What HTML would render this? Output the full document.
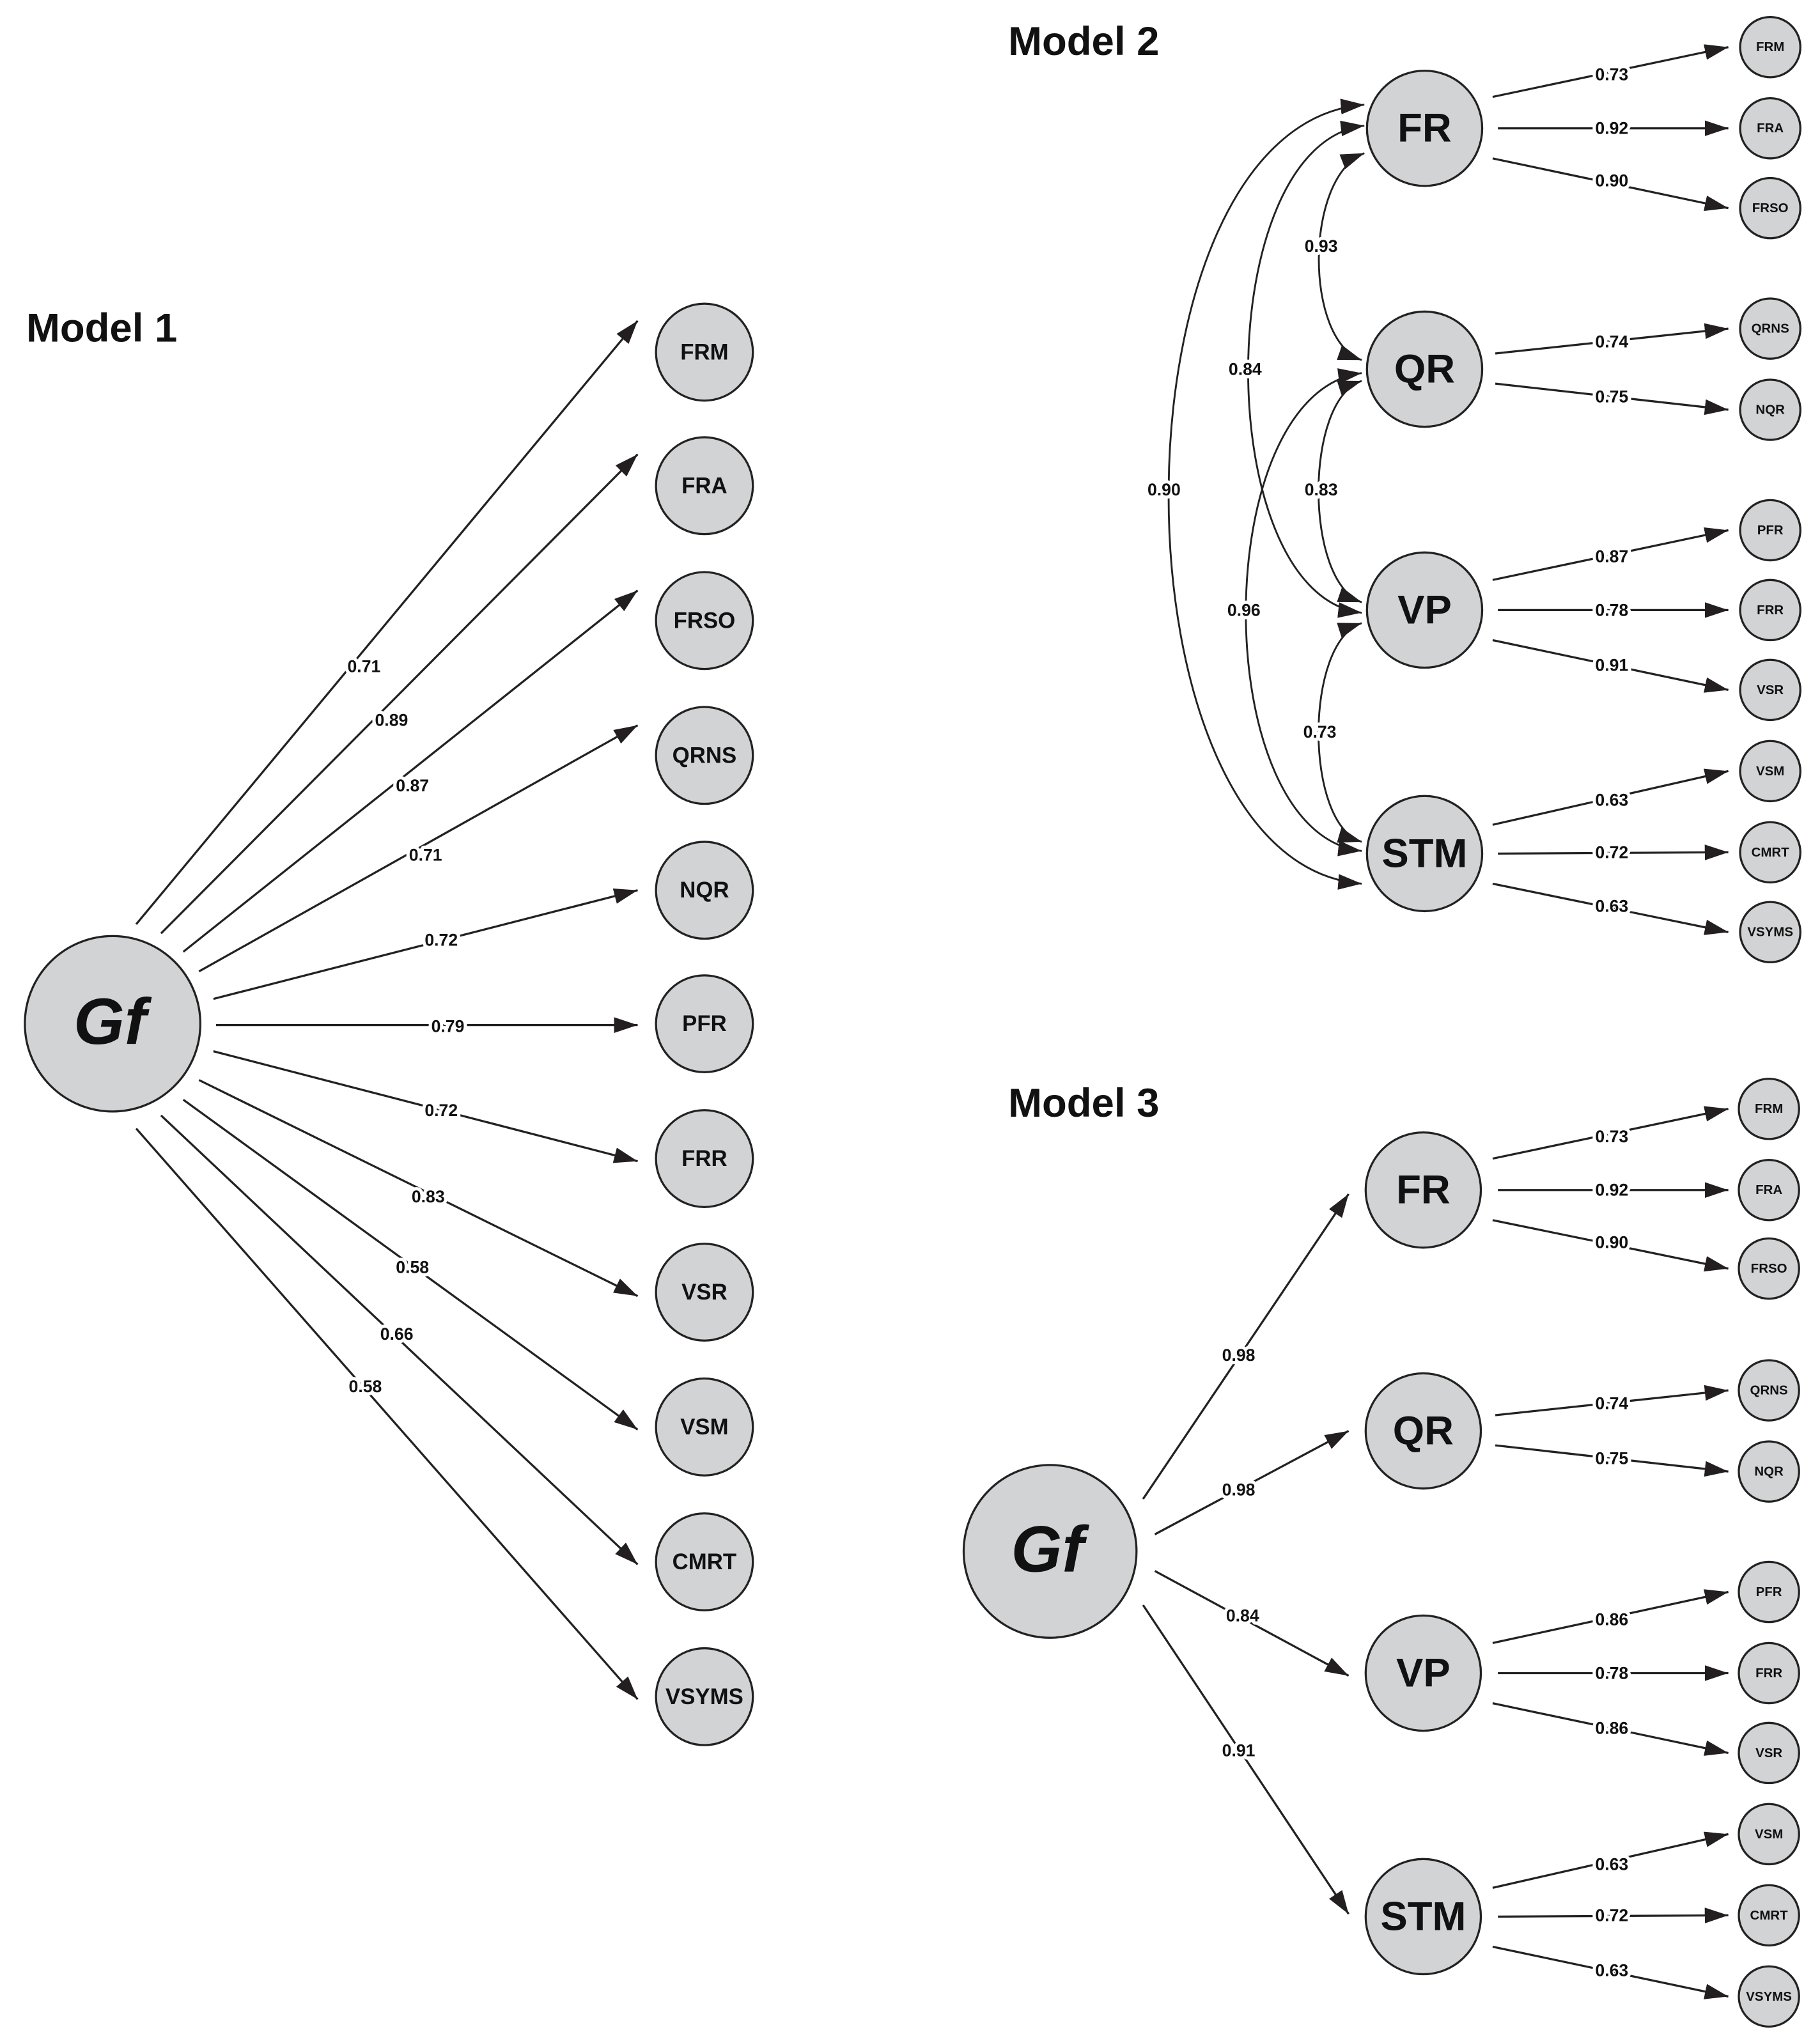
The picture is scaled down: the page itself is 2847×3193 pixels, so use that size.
<!DOCTYPE html>
<html><head><meta charset="utf-8"><style>
html,body{margin:0;padding:0;background:#fff}
svg{display:block}
text{font-family:"Liberation Sans",Arial,sans-serif;font-weight:bold;fill:#111}
.l{font-size:13px;text-anchor:middle;dominant-baseline:central;stroke:#fff;stroke-width:5px;paint-order:stroke;stroke-linejoin:round}
.n1{font-size:17px;text-anchor:middle;dominant-baseline:central}
.n2{font-size:10px;text-anchor:middle;dominant-baseline:central}
.lat{font-size:31px;text-anchor:middle;dominant-baseline:central}
.gf{font-size:50px;font-style:italic;text-anchor:middle;dominant-baseline:central}
.t{font-size:31px}
circle{fill:#d1d3d4;stroke:#222;stroke-width:1.6}
.a{stroke:#222;stroke-width:1.6;fill:none;marker-end:url(#ah)}
.c{stroke:#222;stroke-width:1.4;fill:none;marker-end:url(#ah);marker-start:url(#as)}
</style></head><body>
<svg width="2847" height="3193" viewBox="0 0 1390 1559" preserveAspectRatio="none" xmlns="http://www.w3.org/2000/svg">
<defs>
<marker id="ah" markerUnits="userSpaceOnUse" markerWidth="18" markerHeight="12" viewBox="0 0 18 12" refX="18" refY="6" orient="auto"><path d="M0,0 L18,6 L0,12 z" fill="#231f20"/></marker>
<marker id="as" markerUnits="userSpaceOnUse" markerWidth="18" markerHeight="12" viewBox="0 0 18 12" refX="0" refY="6" orient="auto"><path d="M18,0 L0,6 L18,12 z" fill="#231f20"/></marker>
</defs>

<!-- Titles -->
<text class="t" x="20" y="261">Model 1</text>
<text class="t" x="770" y="42">Model 2</text>
<text class="t" x="770" y="853">Model 3</text>

<!-- Model 1 -->
<line class="a" x1="104" y1="706" x2="487" y2="245"/>
<line class="a" x1="123" y1="713" x2="487" y2="347"/>
<line class="a" x1="140" y1="727" x2="487" y2="451"/>
<line class="a" x1="152" y1="742" x2="487" y2="554"/>
<line class="a" x1="163" y1="763" x2="487" y2="680"/>
<line class="a" x1="165" y1="783" x2="487" y2="783"/>
<line class="a" x1="163" y1="803" x2="487" y2="887"/>
<line class="a" x1="152" y1="825" x2="487" y2="990"/>
<line class="a" x1="140" y1="840" x2="487" y2="1092"/>
<line class="a" x1="123" y1="852" x2="487" y2="1195"/>
<line class="a" x1="104" y1="862" x2="487" y2="1298"/>
<text class="l" x="278" y="509">0.71</text>
<text class="l" x="299" y="550">0.89</text>
<text class="l" x="315" y="600">0.87</text>
<text class="l" x="325" y="653">0.71</text>
<text class="l" x="337" y="718">0.72</text>
<text class="l" x="342" y="784">0.79</text>
<text class="l" x="337" y="848">0.72</text>
<text class="l" x="327" y="914">0.83</text>
<text class="l" x="315" y="968">0.58</text>
<text class="l" x="303" y="1019">0.66</text>
<text class="l" x="279" y="1059">0.58</text>
<circle cx="86" cy="782" r="67"/><text class="gf" x="84" y="780">Gf</text>
<circle cx="538" cy="269" r="37"/><text class="n1" x="538" y="269">FRM</text>
<circle cx="538" cy="371" r="37"/><text class="n1" x="538" y="371">FRA</text>
<circle cx="538" cy="474" r="37"/><text class="n1" x="538" y="474">FRSO</text>
<circle cx="538" cy="577" r="37"/><text class="n1" x="538" y="577">QRNS</text>
<circle cx="538" cy="680" r="37"/><text class="n1" x="538" y="680">NQR</text>
<circle cx="538" cy="782" r="37"/><text class="n1" x="538" y="782">PFR</text>
<circle cx="538" cy="885" r="37"/><text class="n1" x="538" y="885">FRR</text>
<circle cx="538" cy="987" r="37"/><text class="n1" x="538" y="987">VSR</text>
<circle cx="538" cy="1090" r="37"/><text class="n1" x="538" y="1090">VSM</text>
<circle cx="538" cy="1193" r="37"/><text class="n1" x="538" y="1193">CMRT</text>
<circle cx="538" cy="1296" r="37"/><text class="n1" x="538" y="1296">VSYMS</text>

<!-- Model 2 correlations -->
<path class="c" d="M1042,117 C996,135 996,260 1040,275"/>
<path class="c" d="M1040,291 C996,305 996,445 1040,460"/>
<path class="c" d="M1040,476 C996,490 996,630 1040,643"/>
<path class="c" d="M1042,96 C924,110 924,455 1040,468"/>
<path class="c" d="M1040,285 C922,300 922,637 1040,650"/>
<path class="c" d="M1042,80 C843,95 843,660 1040,675"/>
<text class="l" x="1009" y="188">0.93</text>
<text class="l" x="1009" y="374">0.83</text>
<text class="l" x="1008" y="559">0.73</text>
<text class="l" x="951" y="282">0.84</text>
<text class="l" x="950" y="466">0.96</text>
<text class="l" x="889" y="374">0.90</text>

<!-- Model 2 loadings -->
<g>
<line class="a" x1="1140" y1="74" x2="1320" y2="36"/>
<line class="a" x1="1144" y1="98" x2="1320" y2="98"/>
<line class="a" x1="1140" y1="121" x2="1320" y2="159"/>
<line class="a" x1="1142" y1="270" x2="1320" y2="251"/>
<line class="a" x1="1142" y1="293" x2="1320" y2="313"/>
<line class="a" x1="1140" y1="443" x2="1320" y2="405"/>
<line class="a" x1="1144" y1="466" x2="1320" y2="466"/>
<line class="a" x1="1140" y1="489" x2="1320" y2="527"/>
<line class="a" x1="1140" y1="630" x2="1320" y2="589"/>
<line class="a" x1="1144" y1="652" x2="1320" y2="651"/>
<line class="a" x1="1140" y1="675" x2="1320" y2="712"/>
<text class="l" x="1231" y="57">0.73</text>
<text class="l" x="1231" y="98">0.92</text>
<text class="l" x="1231" y="138">0.90</text>
<text class="l" x="1231" y="261">0.74</text>
<text class="l" x="1231" y="303">0.75</text>
<text class="l" x="1231" y="425">0.87</text>
<text class="l" x="1231" y="466">0.78</text>
<text class="l" x="1231" y="508">0.91</text>
<text class="l" x="1231" y="611">0.63</text>
<text class="l" x="1231" y="651">0.72</text>
<text class="l" x="1231" y="692">0.63</text>
</g>
<circle cx="1088" cy="98" r="44"/><text class="lat" x="1088" y="98">FR</text>
<circle cx="1088" cy="282" r="44"/><text class="lat" x="1088" y="282">QR</text>
<circle cx="1088" cy="466" r="44"/><text class="lat" x="1088" y="466">VP</text>
<circle cx="1088" cy="652" r="44"/><text class="lat" x="1088" y="652">STM</text>
<circle cx="1352" cy="36" r="23"/><text class="n2" x="1352" y="36">FRM</text>
<circle cx="1352" cy="98" r="23"/><text class="n2" x="1352" y="98">FRA</text>
<circle cx="1352" cy="159" r="23"/><text class="n2" x="1352" y="159">FRSO</text>
<circle cx="1352" cy="251" r="23"/><text class="n2" x="1352" y="251">QRNS</text>
<circle cx="1352" cy="313" r="23"/><text class="n2" x="1352" y="313">NQR</text>
<circle cx="1352" cy="405" r="23"/><text class="n2" x="1352" y="405">PFR</text>
<circle cx="1352" cy="466" r="23"/><text class="n2" x="1352" y="466">FRR</text>
<circle cx="1352" cy="527" r="23"/><text class="n2" x="1352" y="527">VSR</text>
<circle cx="1352" cy="589" r="23"/><text class="n2" x="1352" y="589">VSM</text>
<circle cx="1352" cy="651" r="23"/><text class="n2" x="1352" y="651">CMRT</text>
<circle cx="1352" cy="712" r="23"/><text class="n2" x="1352" y="712">VSYMS</text>

<!-- Model 3 -->
<line class="a" x1="873" y1="1145" x2="1030" y2="912"/>
<line class="a" x1="882" y1="1172" x2="1030" y2="1093"/>
<line class="a" x1="882" y1="1200" x2="1030" y2="1280"/>
<line class="a" x1="873" y1="1226" x2="1030" y2="1462"/>
<text class="l" x="946" y="1035">0.98</text>
<text class="l" x="946" y="1138">0.98</text>
<text class="l" x="949" y="1234">0.84</text>
<text class="l" x="946" y="1337">0.91</text>
<circle cx="802" cy="1185" r="66"/><text class="gf" x="800" y="1183">Gf</text>

<line class="a" x1="1140" y1="885" x2="1320" y2="847"/>
<line class="a" x1="1144" y1="909" x2="1320" y2="909"/>
<line class="a" x1="1140" y1="932" x2="1320" y2="969"/>
<line class="a" x1="1142" y1="1081" x2="1320" y2="1062"/>
<line class="a" x1="1142" y1="1104" x2="1320" y2="1124"/>
<line class="a" x1="1140" y1="1255" x2="1320" y2="1216"/>
<line class="a" x1="1144" y1="1278" x2="1320" y2="1278"/>
<line class="a" x1="1140" y1="1301" x2="1320" y2="1339"/>
<line class="a" x1="1140" y1="1442" x2="1320" y2="1401"/>
<line class="a" x1="1144" y1="1464" x2="1320" y2="1463"/>
<line class="a" x1="1140" y1="1487" x2="1320" y2="1525"/>
<text class="l" x="1231" y="868">0.73</text>
<text class="l" x="1231" y="909">0.92</text>
<text class="l" x="1231" y="949">0.90</text>
<text class="l" x="1231" y="1072">0.74</text>
<text class="l" x="1231" y="1114">0.75</text>
<text class="l" x="1231" y="1237">0.86</text>
<text class="l" x="1231" y="1278">0.78</text>
<text class="l" x="1231" y="1320">0.86</text>
<text class="l" x="1231" y="1424">0.63</text>
<text class="l" x="1231" y="1463">0.72</text>
<text class="l" x="1231" y="1505">0.63</text>
<circle cx="1087" cy="909" r="44"/><text class="lat" x="1087" y="909">FR</text>
<circle cx="1087" cy="1093" r="44"/><text class="lat" x="1087" y="1093">QR</text>
<circle cx="1087" cy="1278" r="44"/><text class="lat" x="1087" y="1278">VP</text>
<circle cx="1087" cy="1464" r="44"/><text class="lat" x="1087" y="1464">STM</text>
<circle cx="1351" cy="847" r="23"/><text class="n2" x="1351" y="847">FRM</text>
<circle cx="1351" cy="909" r="23"/><text class="n2" x="1351" y="909">FRA</text>
<circle cx="1351" cy="969" r="23"/><text class="n2" x="1351" y="969">FRSO</text>
<circle cx="1351" cy="1062" r="23"/><text class="n2" x="1351" y="1062">QRNS</text>
<circle cx="1351" cy="1124" r="23"/><text class="n2" x="1351" y="1124">NQR</text>
<circle cx="1351" cy="1216" r="23"/><text class="n2" x="1351" y="1216">PFR</text>
<circle cx="1351" cy="1278" r="23"/><text class="n2" x="1351" y="1278">FRR</text>
<circle cx="1351" cy="1339" r="23"/><text class="n2" x="1351" y="1339">VSR</text>
<circle cx="1351" cy="1401" r="23"/><text class="n2" x="1351" y="1401">VSM</text>
<circle cx="1351" cy="1463" r="23"/><text class="n2" x="1351" y="1463">CMRT</text>
<circle cx="1351" cy="1525" r="23"/><text class="n2" x="1351" y="1525">VSYMS</text>
</svg>
</body></html>
